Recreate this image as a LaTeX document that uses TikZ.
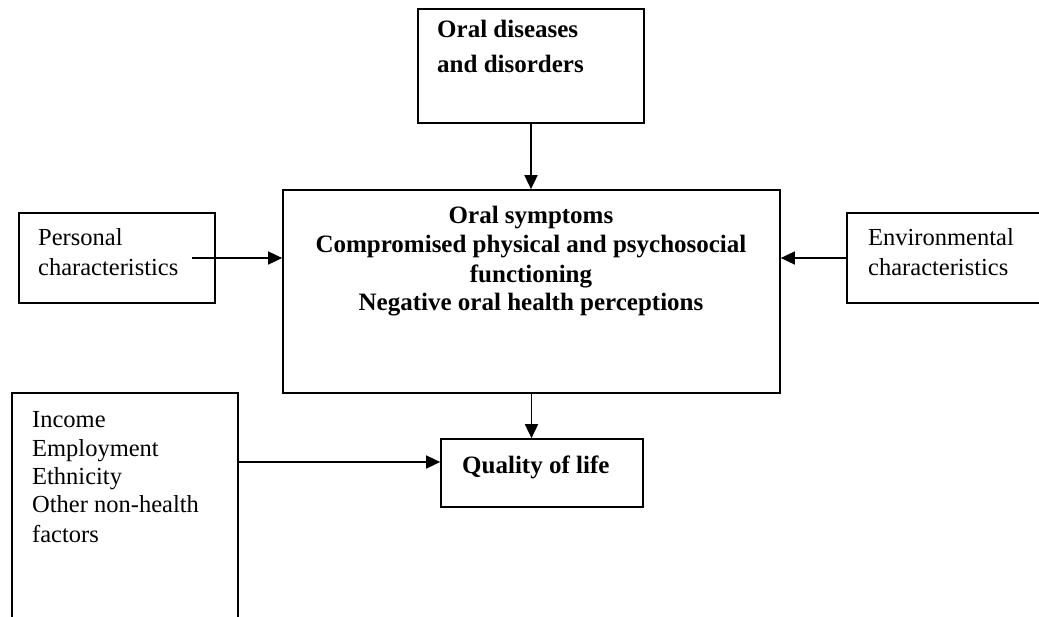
\documentclass[tikz,border=0pt]{standalone}
\usepackage{fontspec}
\setmainfont{Liberation Serif}
\usetikzlibrary{arrows.meta}
\begin{document}
\begin{tikzpicture}[x=1pt,y=-1pt,
  box/.style={draw, line width=1.7pt, inner sep=0pt},
  lbl/.style={inner sep=0pt, anchor=base west, font=\fontsize{24.5}{28}\selectfont},
  blbl/.style={inner sep=0pt, anchor=base west, font=\fontsize{25}{28}\selectfont\bfseries},
  clbl/.style={inner sep=0pt, anchor=base, font=\fontsize{25}{28}\selectfont\bfseries},
  arr/.style={line width=1.7pt, -{Triangle[length=14pt,width=13pt]}}]
\useasboundingbox (0,0) rectangle (1039,616);
% boxes
\node[box, minimum width=226pt, minimum height=114pt] (dis) at (531,66) {};
\node[box, minimum width=497pt, minimum height=203pt] (sym) at (531.5,291.5) {};
\node[box, minimum width=196pt, minimum height=90pt] (pers) at (117,258) {};
\node[box, minimum width=200pt, minimum height=90pt] (env) at (947,258) {};
\node[box, minimum width=226pt, minimum height=236pt] (inc) at (125,511) {};
\node[box, minimum width=202pt, minimum height=68pt] (qol) at (542,473) {};
% texts
\node[blbl] (t1) at (437,37) {Oral diseases};
\node[blbl] (t2) at (437,72) {and disorders};
\node[clbl] (s1) at (531,223) {Oral symptoms};
\node[clbl] (s2) at (531,252) {Compromised physical and psychosocial};
\node[clbl] (s3) at (531,282) {functioning};
\node[clbl] (s4) at (531,310) {Negative oral health perceptions};
\node[lbl] (p1) at (38,245) {Personal};
\node[lbl] (p2) at (38,275) {characteristics};
\node[lbl] (e1) at (868,245) {Environmental};
\node[lbl] (e2) at (868,275) {characteristics};
\node[lbl] (i1) at (32,427) {Income};
\node[lbl] (i2) at (32,456) {Employment};
\node[lbl] (i3) at (32,484) {Ethnicity};
\node[lbl] (i4) at (32,512) {Other non-health};
\node[lbl] (i5) at (32,542) {factors};
\node[blbl] (q1) at (462,473) {Quality of life};
% connectors
\coordinate (pstart) at (192,258);
\coordinate (lowy) at (0,462);
\draw[arr] (dis.south) -- (dis.south |- sym.north);
\draw[arr] (pstart) -- (pstart -| sym.west);
\draw[arr] (env.west) -- (env.west -| sym.east);
\draw[arr] (sym.south) -- (sym.south |- qol.north);
\draw[arr] (inc.east |- lowy) -- (qol.west |- lowy);
\end{tikzpicture}
\end{document}
